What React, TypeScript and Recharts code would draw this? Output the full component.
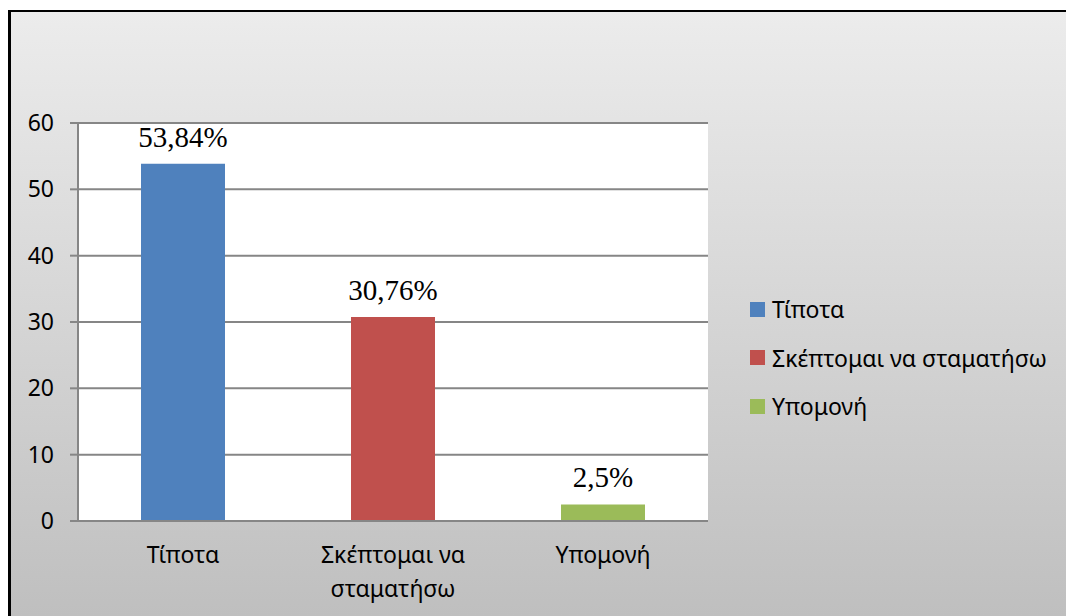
import { BarChart, Bar, Cell, XAxis, YAxis, CartesianGrid, Legend, LabelList } from 'recharts'

const categories = ['Τίποτα', 'Σκέπτομαι να σταματήσω', 'Υπομονή']
const percentages = [53.84, 30.76, 2.5]
const barColors = ['#4f81bd', '#c0504d', '#9bbb59']
const yTicks = [0, 10, 20, 30, 40, 50, 60]
const boundaryTicks = [0, 1, 2, 3]

const data = categories.map((name, i) => ({ name, value: percentages[i] }))

const SANS = '"Noto Sans", sans-serif'
const GRID = '#868686'

const fmtPct = (v: number) => `${String(v).replace('.', ',')}%`

// greedy word wrap by character count, the axis labels are short
const wrap = (s: string, max = 13) => {
  const lines: string[] = []
  s.split(' ').forEach(w => {
    const last = lines[lines.length - 1]
    if (last && (last + ' ' + w).length <= max) lines[lines.length - 1] = last + ' ' + w
    else lines.push(w)
  })
  return lines
}

const CategoryTick = ({ x, y, payload }: any) => (
  <text x={x} y={y} textAnchor="middle" fill="#000" style={{ fontFamily: SANS, fontSize: 23 }}>
    {wrap(payload.value).map((line, i) => (
      <tspan key={i} x={x} dy={i === 0 ? '0.71em' : 34}>{line}</tspan>
    ))}
  </text>
)

const ValueLabel = ({ x, y, width, value }: any) => (
  <text
    x={x + width / 2}
    y={y - 17}
    textAnchor="middle"
    style={{ fontFamily: '"Liberation Serif", serif', fontSize: 29 }}
    fill="#000"
  >
    {fmtPct(value)}
  </text>
)

const LegendBox = () => (
  <div style={{ fontFamily: SANS, fontSize: 23, color: '#000' }}>
    {categories.map((c, i) => (
      <div key={c} style={{ display: 'flex', alignItems: 'center', height: 48.5 }}>
        <div style={{ width: 15, height: 15, background: barColors[i], marginRight: 7 }} />
        <span style={{ whiteSpace: 'nowrap' }}>{c}</span>
      </div>
    ))}
  </div>
)

export default function App() {
  return (
    <div style={{
      position: 'absolute', left: 8, top: 10, width: 1055, height: 604,
      borderTop: '2px solid #000', borderLeft: '3px solid #000',
      background: 'linear-gradient(to bottom, #ececec, #bfbfbf)'
    }}>
      <BarChart width={1055} height={604} data={data} barCategoryGap="30%"
        margin={{ top: 111, right: 358, left: 0, bottom: 0 }}>
        <CartesianGrid xAxisId="cat" vertical={false} stroke={GRID} strokeWidth={2} fill="#fff" fillOpacity={1} />
        {/* category boundary ticks like Excel draws them */}
        <XAxis type="number" domain={[0, 3]} ticks={boundaryTicks} tick={false}
          height={8} tickSize={7} axisLine={{ stroke: GRID, strokeWidth: 2 }} tickLine={{ stroke: GRID, strokeWidth: 2 }} />
        <XAxis xAxisId="cat" dataKey="name" interval={0} height={87} axisLine={false} tickLine={false}
          tickSize={8} tickMargin={10} tick={<CategoryTick />} />
        <YAxis domain={[0, 60]} ticks={yTicks} width={67} tickSize={8} tickMargin={16}
          axisLine={{ stroke: GRID, strokeWidth: 2 }} tickLine={{ stroke: GRID, strokeWidth: 2 }}
          tick={{ fill: '#000', fontSize: 23, fontFamily: SANS }} />
        <Legend layout="horizontal" verticalAlign="middle" align="center"
          wrapperStyle={{ left: 739, top: 273, width: 'auto' }} content={<LegendBox />} />
        <Bar xAxisId="cat" dataKey="value" isAnimationActive={false}>
          {data.map((d, i) => <Cell key={d.name} fill={barColors[i]} />)}
          <LabelList dataKey="value" content={<ValueLabel />} />
        </Bar>
      </BarChart>
    </div>
  )
}
